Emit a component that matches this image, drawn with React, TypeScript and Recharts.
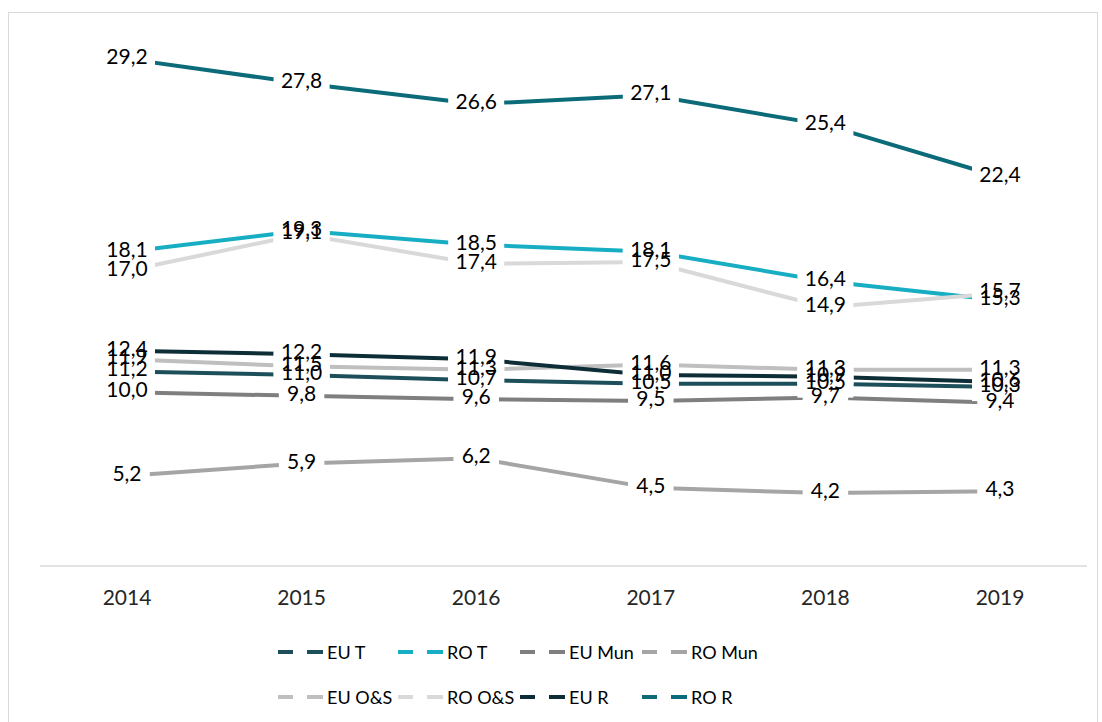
import React from 'react'
import { LineChart, Line, XAxis, YAxis, Legend, LabelList } from 'recharts'

const years = ['2014', '2015', '2016', '2017', '2018', '2019']
const euT = [11.2, 11.0, 10.7, 10.5, 10.5, 10.3]
const roT = [18.1, 19.3, 18.5, 18.1, 16.4, 15.3]
const euMun = [10.0, 9.8, 9.6, 9.5, 9.7, 9.4]
const roMun = [5.2, 5.9, 6.2, 4.5, 4.2, 4.3]
const euOS = [11.9, 11.5, 11.3, 11.6, 11.3, 11.3]
const roOS = [17.0, 19.1, 17.4, 17.5, 14.9, 15.7]
const euR = [12.4, 12.2, 11.9, 11.0, 10.9, 10.6]
const roR = [29.2, 27.8, 26.6, 27.1, 25.4, 22.4]

const SERIES = [
  { key: 'euT', name: 'EU T', color: '#1d4f5b', values: euT },
  { key: 'roT', name: 'RO T', color: '#17aec4', values: roT },
  { key: 'euMun', name: 'EU Mun', color: '#7f7f7f', values: euMun },
  { key: 'roMun', name: 'RO Mun', color: '#a5a5a5', values: roMun },
  { key: 'euOS', name: 'EU O&S', color: '#bfbfbf', values: euOS },
  { key: 'roOS', name: 'RO O&S', color: '#d9d9d9', values: roOS },
  { key: 'euR', name: 'EU R', color: '#0d2e37', values: euR },
  { key: 'roR', name: 'RO R', color: '#0b6b78', values: roR },
]

const data = years.map((year, i) => {
  const row: Record<string, any> = { year }
  SERIES.forEach(s => { row[s.key] = s.values[i] })
  return row
})

const FONT = 'Lato, "Open Sans", sans-serif'
const fmt = (v: number) => v.toFixed(1).replace('.', ',')

// white box behind each value label, drawn before all texts
const LabelBox = (props: any) => {
  const { x, y, value } = props
  if (x == null || y == null) return null
  const w = fmt(value).length * 10.5 + 14
  return <rect x={x - w / 2} y={y - 14} width={w} height={28} fill="#ffffff" />
}

const LabelText = (props: any) => {
  const { x, y, value } = props
  if (x == null || y == null) return null
  return (
    <text x={x} y={y} dy={5} textAnchor="middle" fontSize={21} fontFamily={FONT} fill="#000000">
      {fmt(value)}
    </text>
  )
}

const colX = [278, 398, 520, 642]
const rowY = [652, 697]

const LegendContent = () => (
  <div style={{ position: 'relative', width: 1102, height: 90 }}>
    {SERIES.map((s, i) => (
      <div
        key={s.key}
        style={{
          position: 'absolute',
          left: colX[i % 4],
          top: rowY[Math.floor(i / 4)] - 630 - 14,
          height: 28,
          display: 'flex',
          alignItems: 'center',
          fontFamily: FONT,
          fontSize: 18,
          color: '#000000',
          whiteSpace: 'nowrap',
        }}
      >
        <svg width={49} height={28}>
          <line x1={0} y1={14} x2={15} y2={14} stroke={s.color} strokeWidth={4} />
          <line x1={29} y1={14} x2={45} y2={14} stroke={s.color} strokeWidth={4} />
        </svg>
        <span>{s.name}</span>
      </div>
    ))}
  </div>
)

export default function App() {
  return (
    <div style={{ position: 'relative', width: 1102, height: 722, overflow: 'hidden' }}>
      <style>{'body{margin:0;overflow:hidden}'}</style>
      <div
        style={{
          position: 'absolute',
          left: 8,
          top: 12,
          width: 1090,
          height: 720,
          border: '1px solid #d9d9d9',
          boxSizing: 'border-box',
        }}
      />
      <div style={{ position: 'absolute', left: 0, top: 0 }}>
        <LineChart width={1102} height={722} data={data} margin={{ top: 45, right: 15, left: 40, bottom: 6 }}>
          <XAxis
            dataKey="year"
            padding={{ left: 87, right: 87 }}
            tickLine={false}
            axisLine={{ stroke: '#d9d9d9', strokeWidth: 1.5 }}
            tick={{ fontSize: 21, fontFamily: FONT, fill: '#262626' }}
            tickMargin={18}
            height={60}
            interval={0}
          />
          <YAxis hide domain={[0, 30]} />
          {SERIES.map(s => (
            <Line
              key={s.key}
              dataKey={s.key}
              name={s.name}
              stroke={s.color}
              strokeWidth={4}
              dot={false}
              activeDot={false}
              isAnimationActive={false}
            />
          ))}
          {SERIES.map(s => (
            <Line
              key={s.key + '-box'}
              dataKey={s.key}
              stroke="none"
              dot={false}
              activeDot={false}
              legendType="none"
              isAnimationActive={false}
            >
              <LabelList dataKey={s.key} content={LabelBox} />
            </Line>
          ))}
          {SERIES.map(s => (
            <Line
              key={s.key + '-text'}
              dataKey={s.key}
              stroke="none"
              dot={false}
              activeDot={false}
              legendType="none"
              isAnimationActive={false}
            >
              <LabelList dataKey={s.key} content={LabelText} />
            </Line>
          ))}
          <Legend
            verticalAlign="bottom"
            content={LegendContent}
            wrapperStyle={{ left: 0, top: 630, width: 1102, height: 90 }}
          />
        </LineChart>
      </div>
    </div>
  )
}
